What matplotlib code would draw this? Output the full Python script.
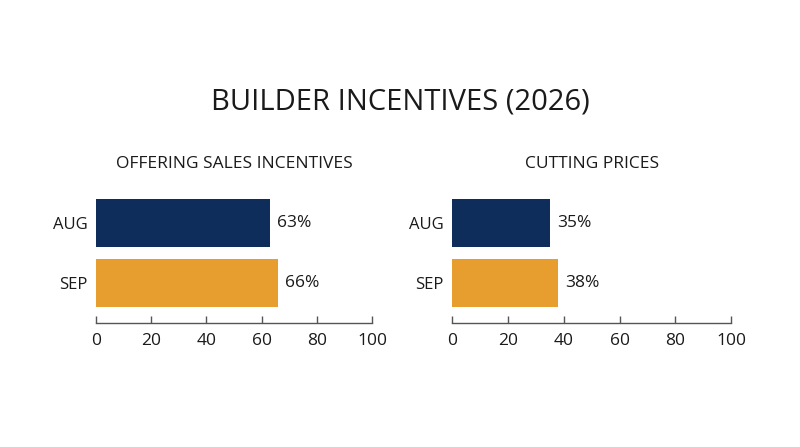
import matplotlib
matplotlib.use("Agg")
import matplotlib.pyplot as plt

plt.rcParams["font.family"] = ["Open Sans", "DejaVu Sans"]

title = "BUILDER INCENTIVES (2026)"
months = ["AUG", "SEP"]
panel_titles = ["OFFERING SALES INCENTIVES", "CUTTING PRICES"]
incentives = [63, 66]
price_cuts = [35, 38]
ticks = [0, 20, 40, 60, 80, 100]

bar_colors = ["#0f2d5b", "#e89e2e"]
text_color = "#1a1a1a"
spine_color = "#555555"


def draw_panel(ax, values, subtitle):
    ax.barh(range(len(months)), values, height=0.8, color=bar_colors)
    for i, v in enumerate(values):
        ax.text(v + 2.5, i, f"{v}%", va="center", ha="left",
                fontsize=12.5, color=text_color)

    ax.set_xlim(0, 100)
    ax.set_ylim(1.66, -0.55)
    ax.set_xticks(ticks)
    ax.set_xticklabels([str(t) for t in ticks])
    ax.set_yticks(range(len(months)))
    ax.set_yticklabels(months)

    for side in ["top", "right", "left"]:
        ax.spines[side].set_visible(False)
    ax.spines["bottom"].set_color(spine_color)
    ax.spines["bottom"].set_linewidth(1.0)

    ax.tick_params(axis="x", direction="in", length=5, width=1,
                   color=spine_color, labelsize=12.5, labelcolor=text_color, pad=7)
    ax.tick_params(axis="y", length=0, labelsize=12, labelcolor=text_color, pad=6)

    ax.set_title(subtitle, fontsize=12.5, color=text_color, pad=16)


fig = plt.figure(figsize=(8, 4.47), dpi=100)
fig.patch.set_facecolor("white")

ax1 = fig.add_axes([0.12, 0.2774, 0.345, 0.2975])
ax2 = fig.add_axes([0.565, 0.2774, 0.349, 0.2975])

draw_panel(ax1, incentives, panel_titles[0])
draw_panel(ax2, price_cuts, panel_titles[1])

fig.text(0.5, 0.772, title, ha="center", va="center",
         fontsize=21, color=text_color)

fig.savefig("out.png", dpi=100, facecolor="white")
